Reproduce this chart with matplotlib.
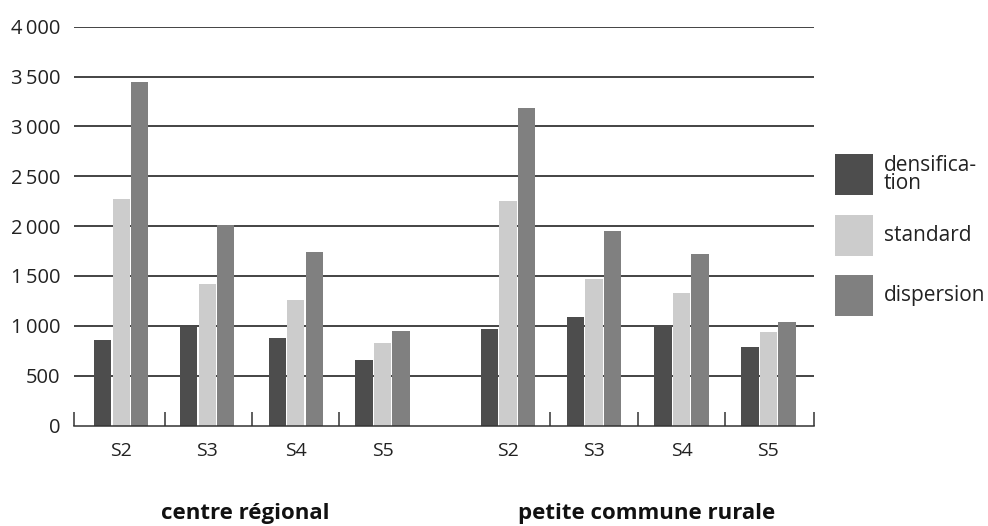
import matplotlib
matplotlib.use("Agg")
import matplotlib.pyplot as plt
from matplotlib.patches import Rectangle
from matplotlib.transforms import blended_transform_factory

plt.rcParams['font.family'] = ['Open Sans', 'DejaVu Sans']

# data
scenarios = ["S2", "S3", "S4", "S5"]
groups = ["centre régional", "petite commune rurale"]
series = ["densifica-\ntion", "standard", "dispersion"]
colors = ["#4d4d4d", "#cccccc", "#808080"]

centre_densification = [855, 985, 880, 655]
centre_standard = [2275, 1420, 1260, 830]
centre_dispersion = [3450, 2010, 1745, 950]

rurale_densification = [970, 1090, 1005, 785]
rurale_standard = [2255, 1470, 1330, 935]
rurale_dispersion = [3185, 1955, 1720, 1040]

y_ticks = [0, 500, 1000, 1500, 2000, 2500, 3000, 3500, 4000]

W, H = 988, 526
fig = plt.figure(figsize=(W / 100, H / 100), dpi=100)
ax = fig.add_axes([74 / W, 1 - 425.5 / H, (814 - 74) / W, (425.5 - 26.7) / H])

# category positions: two groups of four with a gap between them
left_pos = [0.0, 0.98, 1.99, 2.98]
right_pos = [4.41, 5.39, 6.39, 7.38]
bar_w = 0.197
step = 0.211

for k, (lv, rv) in enumerate(zip(
        [centre_densification, centre_standard, centre_dispersion],
        [rurale_densification, rurale_standard, rurale_dispersion])):
    off = (k - 1) * step
    ax.bar([p + off for p in left_pos], lv, width=bar_w, color=colors[k], zorder=3, linewidth=0)
    ax.bar([p + off for p in right_pos], rv, width=bar_w, color=colors[k], zorder=3, linewidth=0)

ax.set_xlim(-0.54, 7.9)
ax.set_ylim(0, 4000)

# y axis
ax.set_yticks(y_ticks)
ax.set_yticklabels([f"{v:,}".replace(",", "\u2009") for v in y_ticks], fontsize=14.5, color="#222222")
ax.tick_params(axis="y", length=0, pad=10)
for v in y_ticks[1:]:
    ax.axhline(v, color="#111111", linewidth=1.1, zorder=1)

# x axis
ax.set_xticks(left_pos + right_pos)
ax.set_xticklabels(scenarios + scenarios, fontsize=14, color="#222222")
ax.tick_params(axis="x", which="major", length=0, pad=12)
ax.set_xticks([-0.54, 0.5, 1.49, 2.48, 4.89, 5.89, 6.89, 7.9], minor=True)
ax.tick_params(axis="x", which="minor", direction="in", length=10, width=1.1, color="#333333")

for s in ["left", "top", "right"]:
    ax.spines[s].set_visible(False)
ax.spines["bottom"].set_color("#333333")
ax.spines["bottom"].set_linewidth(1.1)
ax.spines["bottom"].set_zorder(4)

# group labels
tr = blended_transform_factory(ax.transData, fig.transFigure)
ax.text(1.41, 1 - 513 / H, groups[0], transform=tr, ha="center", va="center",
        fontsize=16, fontweight="bold", color="#111111")
ax.text(5.99, 1 - 513 / H, groups[1], transform=tr, ha="center", va="center",
        fontsize=16, fontweight="bold", color="#111111")

# legend
tops = [154, 215, 275]
for k in range(3):
    fig.add_artist(Rectangle((835 / W, 1 - (tops[k] + 41) / H), 38 / W, 41 / H,
                             transform=fig.transFigure, color=colors[k], linewidth=0))
    fig.text(884 / W, 1 - (tops[k] + 20.5) / H, series[k], ha="left", va="center",
             fontsize=15, color="#222222", linespacing=0.8)

fig.savefig("out.png", dpi=100)
